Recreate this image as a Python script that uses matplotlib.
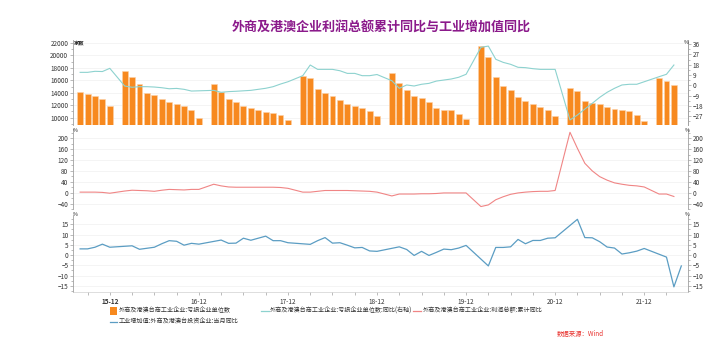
import numpy as np
import pandas as pd
import matplotlib
matplotlib.use("Agg")
import matplotlib.pyplot as plt
from matplotlib.lines import Line2D
from matplotlib.patches import Rectangle
from matplotlib.ticker import MultipleLocator, FixedLocator

plt.rcParams["font.family"] = ["Noto Sans CJK SC", "DejaVu Sans"]

# monthly, 2015-08 .. 2022-05 (None = no release that month)
MONTHS = pd.period_range("2015-08", "2022-05", freq="M")

# 外商及港澳台商工业企业:亏损企业单位数 (家)
loss_units = [
    14130, 13810, 13490, 13000, 11830,
    None, 17500, 16540, 15460, 14020, 13600, 13000, 12520, 12250, 11880, 11240, 10000,
    None, 15410, 14130, 13000, 12470, 11880, 11510, 11190, 10920, 10750, 10430, 9580,
    None, 16750, 16430, 14660, 14020, 13490, 12790, 12200, 11880, 11560, 11120, 10200,
    None, 17130, 15630, 14400, 13490, 13170, 12520, 11560, 11290, 11190, 10640, 9790,
    None, 21520, 19700, 16540, 15090, 14450, 13280, 12630, 12250, 11770, 11240, 10220,
    None, 14820, 14240, 12680, 12310, 12250, 11670, 11400, 11190, 11080, 10480, 9520,
    None, 16330, 15950, 15250, None,
]
# 亏损企业单位数:同比 (%), right axis
loss_yoy = [
    11.3, 11.3, 12.2, 12.0, 14.8,
    None, -0.6, -1.7, -1.2, -1.2, -1.5, -2.1, -3.0, -2.7, -3.5, -5.0, -4.8,
    None, -4.4, -6.1, -5.5, -5.2, -4.8, -4.4, -3.5, -2.6, -1.2, 1.1, 3.1,
    None, 8.4, 17.7, 13.9, 13.9, 13.9, 12.7, 10.4, 10.4, 8.4, 8.4, 9.4,
    None, 4.0, -2.6, 0.3, -0.6, 0.9, 1.7, 3.7, 4.6, 5.5, 7.0, 9.6,
    None, 33.1, 34.2, 22.7, 20.0, 18.3, 15.7, 15.4, 14.5, 13.9, 13.9, 13.9,
    None, -30.2, -25.9, -20.7, -15.7, -10.5, -6.1, -2.6, 0.3, 0.9, 0.9, 3.1,
    None, 7.5, 9.6, 17.7, None,
]
# 利润总额:累计同比 (%)
profit_yoy = [
    2, 2, 2, 1, -2,
    None, 6, 9, 8, 7, 5, 9, 12, 11, 10, 12, 12,
    None, 31, 25, 21, 20, 20, 20, 20, 20, 20, 19, 16,
    None, 2, 2, 5, 8, 8, 8, 8, 7, 6, 5, 2,
    None, -12, -5, -5, -5, -4, -4, -3, -1, -1, -1, -1,
    None, -51, -45, -26, -15, -6, -1, 2, 4, 5, 5, 8,
    None, 222, 163, 108, 80, 59, 46, 36, 31, 27, 25, 21,
    None, -5, -5, -14, None,
]
# 工业增加值:外商及港澳台投资企业:当月同比 (%)
va_yoy = [
    3.0, 3.0, 3.8, 5.3, 3.8,
    None, None, 4.5, 2.8, 3.3, 3.8, 5.5, 7.0, 6.7, 4.8, 5.7, 5.3,
    None, None, 7.3, 5.7, 5.8, 8.2, 7.2, 8.2, 9.2, 7.0, 7.0, 6.0,
    None, None, 5.2, 7.0, 8.5, 5.8, 6.0, 4.8, 3.5, 3.7, 2.0, 1.8,
    None, None, 4.0, 2.7, -0.2, 1.8, -0.2, 1.3, 2.9, 2.6, 3.4, 4.7,
    None, None, -5.3, 3.7, 3.7, 4.0, 7.6, 5.5, 7.1, 7.1, 8.2, 8.4,
    None, None, 17.4, 8.5, 8.4, 6.5, 3.9, 3.4, 0.5, 1.1, 1.9, 3.2,
    None, None, -1.0, -15.5, -5.3,
]

LABELS = [
    "外商及港澳台商工业企业:亏损企业单位数",
    "外商及港澳台商工业企业:亏损企业单位数:同比(右轴)",
    "外商及港澳台商工业企业:利润总额:累计同比",
    "工业增加值:外商及港澳台投资企业:当月同比",
]
TITLE = "外商及港澳企业利润总额累计同比与工业增加值同比"

ORANGE = "#f7891f"
CYAN = "#8dd2cf"
RED = "#f08585"
BLUE = "#5b9dc3"
SPINE = "#a0a0a0"
GRID = "#f0f0f0"
TXT = "#333333"
TICK_FS = 4.6

W, H = 724, 357


def arr(v):
    return np.array([np.nan if a is None else a for a in v], dtype=float)


def line(ax, x, v, color, lw=0.8):
    y = arr(v)
    ok = ~np.isnan(y)
    ax.plot(x[ok], y[ok], color=color, lw=lw, zorder=3)


def fx(px):
    return px / W


def fy(py):
    return 1 - py / H


def style(ax, major, minor, right_too=True):
    for s in ("top", "bottom"):
        ax.spines[s].set_visible(False)
    for s in ("left", "right"):
        ax.spines[s].set_color(SPINE)
        ax.spines[s].set_linewidth(0.6)
    ax.yaxis.set_major_locator(FixedLocator(major))
    ax.yaxis.set_minor_locator(MultipleLocator(minor))
    ax.tick_params(axis="y", which="both", direction="out", colors=SPINE,
                   labelcolor=TXT, labelsize=TICK_FS, width=0.5, pad=1,
                   left=True, right=right_too, labelright=right_too)
    ax.tick_params(axis="y", which="major", length=2.2)
    ax.tick_params(axis="y", which="minor", length=1.2)
    ax.grid(axis="y", color=GRID, lw=0.5, zorder=0)
    ax.set_axisbelow(True)
    ax.tick_params(axis="x", which="both", bottom=False, labelbottom=False)


def plot():
    x = np.arange(len(MONTHS))
    xlim = (-1.0, 81.9)
    left, width = fx(72.7), fx(688 - 72.7)

    fig = plt.figure(figsize=(W / 100, H / 100), dpi=100)

    # --- top: bars + loss yoy (right axis)
    ax1 = fig.add_axes([left, fy(125), width, (125 - 40) / H])
    ax1.bar(x, arr(loss_units), width=0.8, color=ORANGE,
            edgecolor="#fcd3aa", linewidth=0.4, zorder=2)
    ax1.set_ylim(8830, 22480)
    ax1.set_xlim(*xlim)
    style(ax1, np.arange(10000, 22001, 2000), 1000, right_too=False)
    ax1r = ax1.twinx()
    line(ax1r, x, loss_yoy, CYAN, lw=0.8)
    ax1r.set_ylim(-34.6, 39.5)
    ax1r.set_xlim(*xlim)
    for s in ("top", "bottom", "left"):
        ax1r.spines[s].set_visible(False)
    ax1r.spines["right"].set_color(SPINE)
    ax1r.spines["right"].set_linewidth(0.6)
    ax1r.yaxis.set_major_locator(FixedLocator(np.arange(-27, 37, 9)))
    ax1r.yaxis.set_minor_locator(MultipleLocator(4.5))
    ax1r.tick_params(axis="y", which="both", direction="out", colors=SPINE,
                     labelcolor=TXT, labelsize=TICK_FS, width=0.5, pad=1)
    ax1r.tick_params(axis="y", which="major", length=2.2)
    ax1r.tick_params(axis="y", which="minor", length=1.2)

    # --- middle: profit cumulative yoy
    ax2 = fig.add_axes([left, fy(209), width, (209 - 129) / H])
    line(ax2, x, profit_yoy, RED, lw=0.8)
    ax2.set_ylim(-60, 234)
    ax2.set_xlim(*xlim)
    style(ax2, np.arange(-40, 201, 40), 20)

    # --- bottom: industrial value added yoy
    ax3 = fig.add_axes([left, fy(292), width, (292 - 215) / H])
    line(ax3, x, va_yoy, BLUE, lw=0.9)
    ax3.set_ylim(-18, 19.5)
    ax3.set_xlim(*xlim)
    style(ax3, np.arange(-15, 16, 5), 2.5)
    ax3.spines["bottom"].set_visible(True)
    ax3.spines["bottom"].set_color("#d0d0d0")
    ax3.spines["bottom"].set_linewidth(0.5)
    dec = [i for i, p in enumerate(MONTHS) if p.month == 12]
    qtr = [i for i, p in enumerate(MONTHS) if p.month in (3, 6, 9)]
    ax3.set_xticks(dec)
    ax3.set_xticklabels([f"{MONTHS[i].year % 100:02d}-12" for i in dec])
    ax3.set_xticks(qtr, minor=True)
    ax3.tick_params(axis="x", which="both", bottom=True, labelbottom=True,
                    direction="out", colors=SPINE, labelcolor=TXT,
                    labelsize=TICK_FS, width=0.5, pad=1.5)
    ax3.tick_params(axis="x", which="major", length=2.5)
    ax3.tick_params(axis="x", which="minor", length=2.0)
    ax3.get_xticklabels()[0].set_fontweight("bold")

    # unit labels
    fig.text(fx(74), fy(43), "家数", fontsize=3.8, weight="bold", color="#222",
             ha="left", va="center")
    for px, py in [(686, 42), (75, 130), (687, 130), (75, 214), (687, 215)]:
        fig.text(fx(px), fy(py), "%", fontsize=3.8, color="#222",
                 ha="center", va="center")

    # title
    fig.text(fx(381), fy(27), TITLE, fontsize=9.4, weight="bold",
             color="#8b1a8b", ha="center", va="center")

    # legend (manual, Wind-style fixed columns)
    leg_fs = 4.4
    fig.add_artist(Rectangle((fx(110), fy(314.5)), fx(7.5), 7.5 / H,
                             facecolor=ORANGE, edgecolor="none"))
    fig.text(fx(119), fy(310.5), LABELS[0], fontsize=leg_fs, color=TXT, va="center")
    for (x0, py, c, lab) in [(261, 310.5, CYAN, LABELS[1]),
                             (413.3, 310.5, RED, LABELS[2]),
                             (110, 321.5, BLUE, LABELS[3])]:
        fig.add_artist(Line2D([fx(x0), fx(x0 + 7.5)], [fy(py), fy(py)],
                              color=c, lw=0.9))
        fig.text(fx(x0 + 9), fy(py), lab, fontsize=leg_fs, color=TXT, va="center")

    fig.text(fx(557), fy(334), "数据来源：Wind", fontsize=4.6, color="#e8332f",
             style="italic", ha="left", va="center")

    fig.savefig("out.png", dpi=100)


if __name__ == "__main__":
    plot()
